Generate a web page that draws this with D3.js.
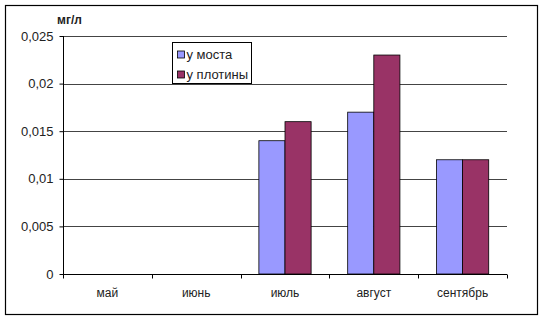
<!DOCTYPE html>
<html>
<head>
<meta charset="utf-8">
<script src="https://cdn.jsdelivr.net/npm/d3@7"></script>
<style>
  body { margin: 0; background: #fff; }
  text { font-family: "Liberation Sans", Arial, sans-serif; }
</style>
</head>
<body>
<div id="chart"></div>
<script>
// data
const months = ["май", "июнь", "июль", "август", "сентябрь"];
const seriesNames = ["у моста", "у плотины"];
const bridgeValues = [null, null, 0.014, 0.017, 0.012];
const damValues = [null, null, 0.016, 0.023, 0.012];
const yTicks = [0, 0.005, 0.01, 0.015, 0.02, 0.025];
const yTickLabels = ["0", "0,005", "0,01", "0,015", "0,02", "0,025"];
const colors = ["#9999ff", "#993366"];

const width = 544, height = 320;
const margin = { left: 63, right: 37, top: 36, bottom: 46 };

const svg = d3.select("#chart").append("svg")
  .attr("width", width)
  .attr("height", height);

// outer frame
svg.append("rect")
  .attr("x", 5.5).attr("y", 5.5)
  .attr("width", 532).attr("height", 309)
  .attr("fill", "none")
  .attr("stroke", "#000")
  .attr("stroke-width", 1.2);

const x = d3.scaleBand()
  .domain(months)
  .range([margin.left, width - margin.right]);

const x1 = d3.scaleBand()
  .domain(seriesNames)
  .range([0, x.bandwidth()])
  .paddingOuter(0.7)
  .paddingInner(0);

const y = d3.scaleLinear()
  .domain([0, 0.025])
  .range([height - margin.bottom, margin.top]);

// gridlines
svg.append("g")
  .selectAll("line")
  .data(yTicks.slice(1))
  .join("line")
  .attr("x1", margin.left)
  .attr("x2", width - margin.right)
  .attr("y1", d => Math.round(y(d)) + 0.5)
  .attr("y2", d => Math.round(y(d)) + 0.5)
  .attr("stroke", "#444")
  .attr("stroke-width", 1);

// bars
const rows = months.map((m, i) => ({ month: m, vals: [bridgeValues[i], damValues[i]] }));

svg.append("g")
  .selectAll("g")
  .data(rows)
  .join("g")
  .attr("transform", d => `translate(${x(d.month)},0)`)
  .selectAll("rect")
  .data(d => d.vals.map((v, j) => ({ name: seriesNames[j], v: v, j: j })).filter(d => d.v != null))
  .join("rect")
  .attr("x", d => x1(d.name))
  .attr("y", d => y(d.v))
  .attr("width", x1.bandwidth())
  .attr("height", d => y(0) - y(d.v))
  .attr("fill", d => colors[d.j])
  .attr("stroke", "#000")
  .attr("stroke-width", 0.8);

// y axis
const yAxis = d3.axisLeft(y)
  .tickValues(yTicks)
  .tickFormat((d, i) => yTickLabels[i])
  .tickSize(4)
  .tickPadding(6);

const gy = svg.append("g")
  .attr("transform", `translate(${margin.left + 0.5},0)`)
  .call(yAxis);
gy.select(".domain").attr("stroke", "#000").attr("d", `M0,${y(0.025)}V${y(0)}`);
gy.selectAll(".tick line").attr("stroke", "#000");
gy.selectAll("text").attr("font-size", 13).attr("fill", "#222");

// x axis
const xAxis = d3.axisBottom(x)
  .tickSize(0)
  .tickPadding(14);

const gx = svg.append("g")
  .attr("transform", `translate(0,${y(0) + 0.5})`)
  .call(xAxis);
gx.select(".domain").attr("stroke", "#000").attr("d", `M${margin.left},0H${width - margin.right}`);
gx.selectAll("text").attr("font-size", 12).attr("fill", "#222");

// category separator ticks
gx.append("g")
  .selectAll("line")
  .data(months.map(m => x(m)).concat([x.range()[1]]))
  .join("line")
  .attr("x1", d => Math.round(d) + 0.5)
  .attr("x2", d => Math.round(d) + 0.5)
  .attr("y1", 0)
  .attr("y2", 4)
  .attr("stroke", "#000");

// unit label
svg.append("text")
  .attr("x", 57)
  .attr("y", 24)
  .attr("font-size", 12)
  .attr("font-weight", "bold")
  .attr("fill", "#222")
  .text("мг/л");

// legend
const legend = svg.append("g").attr("transform", "translate(172.5,42.5)");
legend.append("rect")
  .attr("width", 79).attr("height", 41)
  .attr("fill", "#fff")
  .attr("stroke", "#000");

const items = legend.selectAll("g.item")
  .data(seriesNames)
  .join("g")
  .attr("class", "item")
  .attr("transform", (d, i) => `translate(5,${8.5 + i * 20})`);

items.append("rect")
  .attr("width", 7).attr("height", 7)
  .attr("fill", (d, i) => colors[i])
  .attr("stroke", "#000")
  .attr("stroke-width", 0.8);

items.append("text")
  .attr("x", 9)
  .attr("y", 7.5)
  .attr("font-size", 13)
  .attr("fill", "#222")
  .text(d => d);
</script>
</body>
</html>
